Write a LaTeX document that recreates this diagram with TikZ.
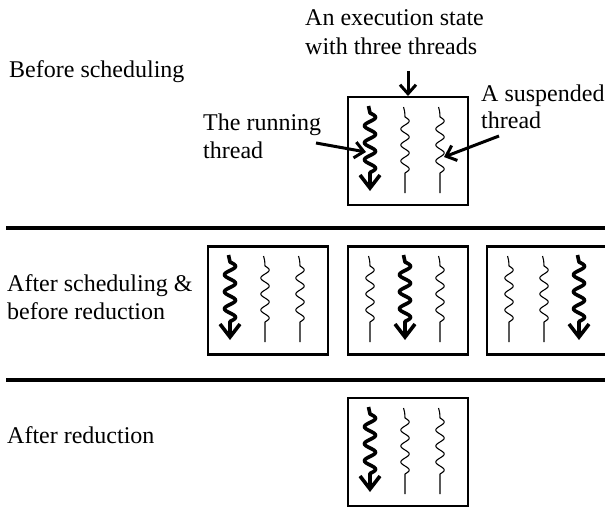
\documentclass[tikz,border=0pt]{standalone}
\usepackage{fontspec}
\setmainfont{Liberation Serif}
\usetikzlibrary{arrows.meta}
\tikzset{
  lbl/.style={anchor=base west,inner sep=0pt,font=\fontsize{24}{28}\selectfont},
  statebox/.style={draw,line width=2.5pt,minimum width=120pt,minimum height=108pt,inner sep=0pt},
  sepline/.style={line width=4.5pt},
  thinthread/.style={line width=1.1pt,line join=round},
  thickthread/.style={line width=3.6pt,line join=round,-{Straight Barb[length=13pt,width=20pt]}},
  lblarrow/.style={line width=3pt,-{Straight Barb[length=9pt,width=16pt]}},
}
\newcommand\thinthr[2]{%
  \draw[thinthread] (#1-1.5,#2+10) .. controls (#1-0.3,#2+14) .. (#1,#2+20)
    -- plot[domain=0:3.5,samples=90,variable=\t] ({#1+4.2*sin(\t*360)},{#2+20+\t*16})
    -- (#1,#2+96);}
\newcommand\thickthr[2]{%
  \draw[thickthread] (#1-1.5,#2+9) .. controls (#1-0.3,#2+12) .. (#1,#2+16)
    -- plot[domain=0:3.5,samples=90,variable=\t] ({#1+5.5*sin(\t*360)},{#2+16+\t*17})
    -- (#1,#2+94);}
\begin{document}
\begin{tikzpicture}[x=1pt,y=-1pt]
\useasboundingbox (0,0) rectangle (605,508);
\clip (0,0) rectangle (605,508);

% labels
\node[lbl] (before) at (9,78) {Before scheduling};
\node[lbl] (exec1) at (305,26) {An execution state};
\node[lbl] (exec2) at (305,55) {with three threads};
\node[lbl] (run1) at (203,131) {The running};
\node[lbl] (run2) at (203,159) {thread};
\node[lbl] (susp1) at (481,102) {A suspended};
\node[lbl] (susp2) at (481,129) {thread};
\node[lbl] (after1) at (7,291) {After scheduling \&};
\node[lbl] (after2) at (7,319) {before reduction};
\node[lbl] (afterred) at (7,443) {After reduction};

% separators
\coordinate (sepAl) at (6,228); \coordinate (sepAr) at (610,228);
\coordinate (sepBl) at (6,380); \coordinate (sepBr) at (610,380);
\draw[sepline] (sepAl) -- (sepAr);
\draw[sepline] (sepBl) -- (sepBr);

% boxes
\node[statebox] (s0) at (408,151) {};
\node[statebox] (m1) at (268,300.5) {};
\node[statebox] (m2) at (408,300.5) {};
\node[statebox] (m3) at (547,300.5) {};
\node[statebox] (r0) at (408,452) {};

% threads: before scheduling
\thickthr{370}{97}\thinthr{405}{97}\thinthr{440}{97}
% after scheduling
\thickthr{230}{246}\thinthr{265}{246}\thinthr{300}{246}
\thinthr{370}{246}\thickthr{405}{246}\thinthr{440}{246}
\thinthr{509}{246}\thinthr{544}{246}\thickthr{579}{246}
% after reduction
\thickthr{370}{398}\thinthr{405}{398}\thinthr{440}{398}

% label arrows
\coordinate (execA) at (408,71); \coordinate (execB) at (408,96);
\draw[lblarrow] (execA) -- (execB);
\coordinate (runA) at (316,143); \coordinate (runB) at (366,152);
\draw[lblarrow] (runA) -- (runB);
\coordinate (suspA) at (499,136); \coordinate (suspB) at (444,157);
\draw[lblarrow] (suspA) -- (suspB);
\end{tikzpicture}
\end{document}
